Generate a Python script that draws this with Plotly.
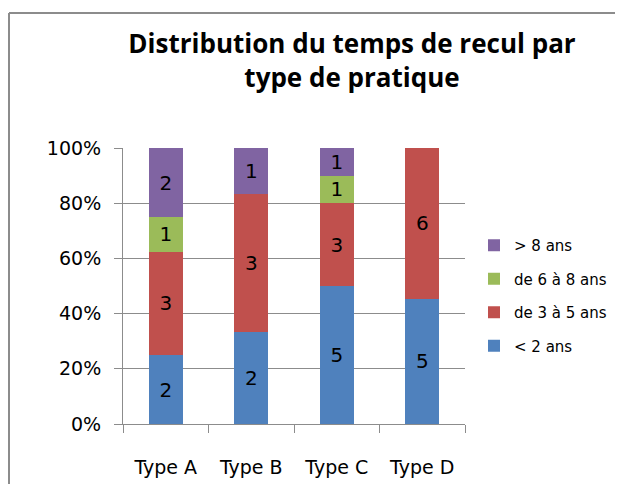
import plotly.graph_objects as go

categories = ["Type A", "Type B", "Type C", "Type D"]
series_names = ["< 2 ans", "de 3 à 5 ans", "de 6 à 8 ans", "> 8 ans"]
lt2 = [2, 2, 5, 5]
y3to5 = [3, 3, 3, 6]
y6to8 = [1, 0, 1, 0]
gt8 = [2, 1, 1, 0]
colors = ["#4F81BD", "#C0504D", "#9BBB59", "#8064A2"]
y_ticks = [0, 20, 40, 60, 80, 100]
y_ticktext = ["0%", "20%", "40%", "60%", "80%", "100%"]

FONT = "DejaVu Sans"
TFONT = "Open Sans"
OFF = 8  # page body margin
W, H = 623 - 2 * OFF, 492 - 2 * OFF
L, R, T, B = 123 - OFF, 465 - OFF, 148 - OFF, 424 - OFF

fig = go.Figure()
for i, (name, vals, col) in enumerate(zip(series_names, [lt2, y3to5, y6to8, gt8], colors)):
    fig.add_trace(go.Bar(
        x=categories, y=vals, name=name, marker=dict(color=col, line=dict(width=0)),
        text=[str(v) if v else "" for v in vals], textposition="inside",
        insidetextanchor="middle", textangle=0, constraintext="none",
        textfont=dict(family=FONT, size=20, color="black"),
        legendgroup=name, legendrank=1000 - i, hoverinfo="skip",
    ))

def px(x):
    return (x - OFF - L) / (R - L)

def py(y):
    return (B - (y - OFF)) / (B - T)

border = dict(color="#8C8C8C", width=2)
fig.update_layout(
    width=W, height=H,
    margin=dict(l=L, r=W - R, t=T, b=H - B, autoexpand=False),
    paper_bgcolor="white", plot_bgcolor="white",
    barmode="stack", barnorm="percent", bargap=0.6,
    font=dict(family=FONT, color="black"),
    title=dict(text="<b>Distribution du temps de recul par<br>type de pratique</b>",
               x=(352 - OFF) / W, xanchor="center", y=1 - (53 - OFF) / H, yanchor="middle",
               font=dict(family=TFONT, size=26, color="black")),
    legend=dict(x=px(474), y=py(229), xanchor="left", yanchor="top",
                traceorder="grouped", tracegroupgap=11,
                font=dict(family=FONT, size=15, color="black"),
                itemwidth=30, bgcolor="rgba(0,0,0,0)"),
    showlegend=True,
    shapes=[
        dict(type="line", xref="paper", yref="paper",
             x0=px(9), x1=px(640), y0=py(13), y1=py(13), line=border, layer="below"),
        dict(type="line", xref="paper", yref="paper",
             x0=px(9), x1=px(9), y0=py(13), y1=py(520), line=border, layer="below"),
    ],
)
fig.update_yaxes(range=[0, 100], tickmode="array", tickvals=y_ticks, ticktext=y_ticktext,
                 showgrid=True, gridcolor="#8C8C8C", gridwidth=1,
                 showline=True, linecolor="#8C8C8C", linewidth=1,
                 ticks="outside", ticklen=8, tickcolor="#8C8C8C",
                 tickfont=dict(family=FONT, size=19, color="black"),
                 ticklabelstandoff=9, zeroline=False)
fig.update_xaxes(showline=True, linecolor="#8C8C8C", linewidth=1,
                 ticks="outside", ticklen=8, tickcolor="#8C8C8C", tickson="boundaries",
                 tickfont=dict(family=FONT, size=19, color="black"),
                 ticklabelstandoff=26)

fig.write_html("out.html", config={"displayModeBar": False})
